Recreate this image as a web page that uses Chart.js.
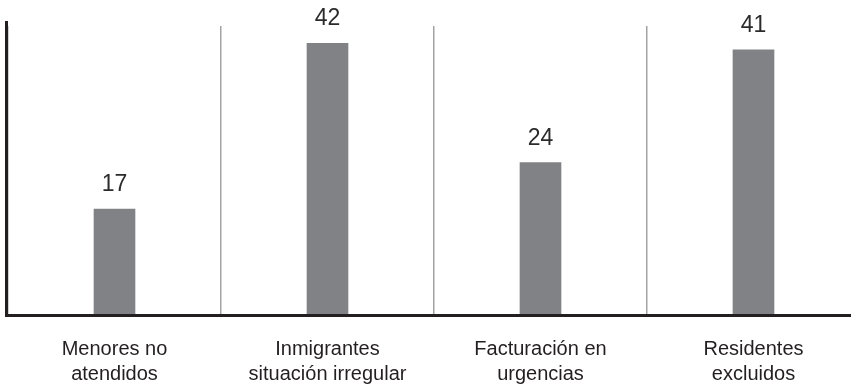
<!DOCTYPE html>
<html>
<head>
<meta charset="utf-8">
<script src="https://cdn.jsdelivr.net/npm/chart.js@4"></script>
<style>
  html, body { margin: 0; padding: 0; background: #ffffff; overflow: hidden; }
  #wrap { position: relative; width: 862px; height: 384px; }
</style>
</head>
<body>
<div id="wrap"><canvas id="c"></canvas></div>
<script>
const categories = [
  ["Menores no", "atendidos"],
  ["Inmigrantes", "situación irregular"],
  ["Facturación en", "urgencias"],
  ["Residentes", "excluidos"]
];
const values = [17, 42, 24, 41];

const FONT = "'Liberation Sans', Arial, sans-serif";
const TEXT = "#231f20";

const labelsAndAxes = {
  id: "labelsAndAxes",
  afterDatasetsDraw(chart) {
    const ctx = chart.ctx;
    const area = chart.chartArea;
    const meta = chart.getDatasetMeta(0);
    ctx.save();
    ctx.fillStyle = "#2b2b2b";
    ctx.font = "23px " + FONT;
    ctx.textAlign = "center";
    ctx.textBaseline = "bottom";
    meta.data.forEach((bar, i) => {
      ctx.fillText(String(values[i]), bar.x, bar.y - 13);
    });
    // axes
    ctx.strokeStyle = TEXT;
    ctx.lineWidth = 3;
    ctx.beginPath();
    ctx.moveTo(6.5, area.top - 5);
    ctx.lineTo(6.5, area.bottom + 2);
    ctx.stroke();
    ctx.beginPath();
    ctx.moveTo(5, area.bottom + 0.5);
    ctx.lineTo(chart.width, area.bottom + 0.5);
    ctx.stroke();
    ctx.restore();
  }
};

new Chart(document.getElementById("c"), {
  type: "bar",
  data: {
    labels: categories,
    datasets: [{
      data: values,
      backgroundColor: "#808285",
      borderWidth: 0,
      barThickness: 41
    }]
  },
  options: {
    responsive: true,
    maintainAspectRatio: false,
    animation: false,
    devicePixelRatio: 1,
    layout: { padding: { left: 8, top: 26, right: 2, bottom: 0 } },
    plugins: { legend: { display: false }, tooltip: { enabled: false } },
    scales: {
      x: {
        offset: true,
        border: { display: false },
        afterFit(scale) { scale.height = 69; },
        grid: {
          offset: true,
          drawTicks: false,
          color: "#a3a3a3",
          lineWidth: 1.5
        },
        ticks: {
          padding: 22,
          color: TEXT,
          font: { family: FONT, size: 20, lineHeight: 1.25 },
          maxRotation: 0,
          autoSkip: false
        }
      },
      y: {
        display: false,
        min: 1.05,
        max: 44.6
      }
    }
  },
  plugins: [labelsAndAxes]
});
</script>
</body>
</html>
